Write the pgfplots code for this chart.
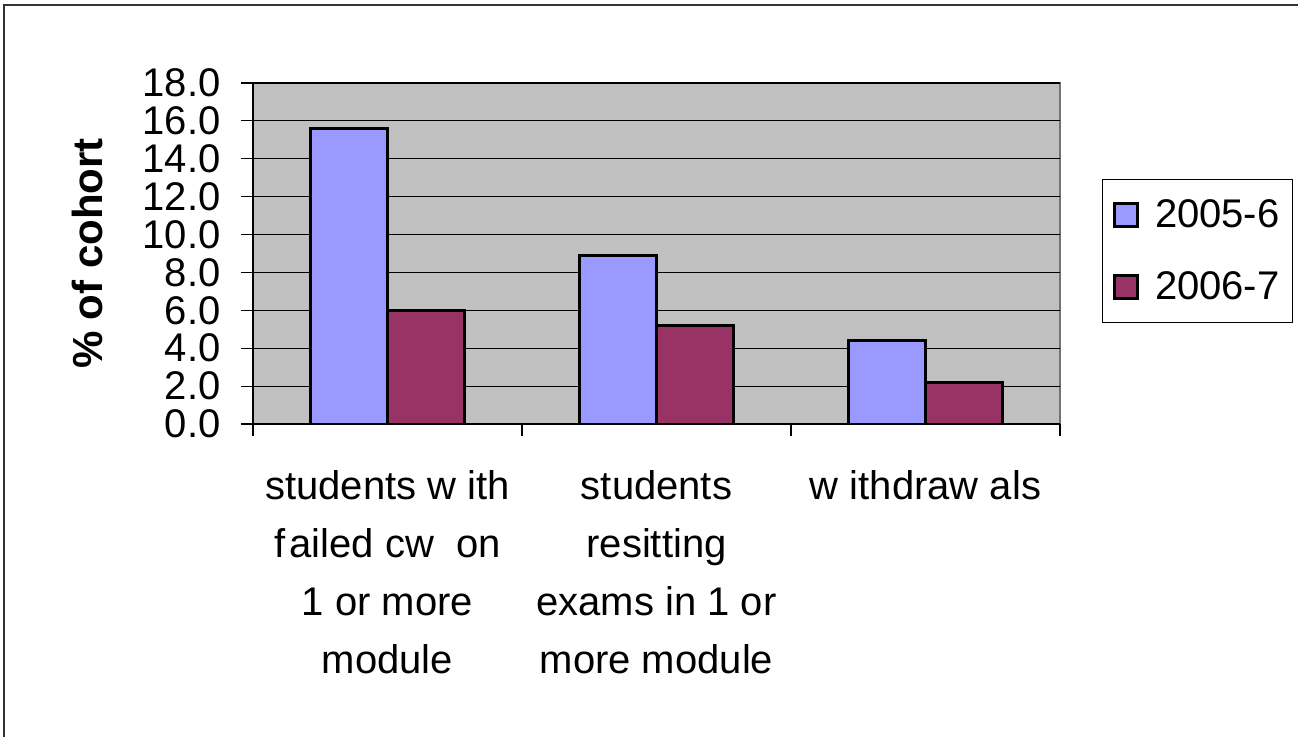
\documentclass[border=0pt]{standalone}
\usepackage{fontspec}
\setmainfont{Liberation Sans}
\usepackage{pgfplots}
\pgfplotsset{compat=1.18}
\definecolor{plotgray}{HTML}{C0C0C0}
\definecolor{barblue}{HTML}{9999FF}
\definecolor{barred}{HTML}{993366}
\begin{document}
\begin{tikzpicture}
\useasboundingbox (-126.5pt,-156.5pt) rectangle (522.5pt,212pt);
\draw[line width=0.8pt, black!80] (-124.5pt,-170pt) -- (-124.5pt,209.5pt) -- (540pt,209.5pt);
\begin{axis}[
  scale only axis, width=403.5pt, height=170.5pt,
  xmin=-0.5, xmax=2.5, ymin=0, ymax=18,
  axis background/.style={fill=plotgray, draw=black!55, line width=1pt},
  axis lines*=left,
  axis line style={black, line width=0.8pt, -},
  ytick={0,2,...,18},
  ymajorgrids, grid style={black, line width=0.6pt},
  tick align=outside, major tick length=6pt,
  tick style={black, line width=0.6pt},
  /pgf/number format/assume math mode=true,
  yticklabel style={/pgf/number format/.cd, fixed, fixed zerofill, precision=1, /tikz/.cd,
    font=\fontsize{20}{20}\selectfont, anchor=east, inner sep=0pt, xshift=-10pt},
  xtick={-0.5,0.5,1.5,2.5}, xticklabels={,,,},
  extra x ticks={0,1,2},
  extra x tick labels={{students w ith\\f\hspace{2pt}ailed cw\ \ on\\1 or more\\module},
                       {students\\resitting\\exams in 1 or\\more module},
                       {w ithdraw als}},
  extra x tick style={grid=none, major tick length=0pt,
    tick label style={font=\fontsize{20}{29}\selectfont, align=center, anchor=north, yshift=-19.5pt}},
  ylabel={\textbf{\% of cohort}},
  ylabel style={font=\fontsize{21}{21}\selectfont, at={(axis description cs:-0.2045,0.5)}, anchor=center},
  ybar, bar width=0.2857,
  legend style={at={(rel axis cs:1.052,0.7185)}, anchor=north west, draw=black, line width=0.5pt,
    font=\fontsize{20}{24}\selectfont, inner xsep=5.5pt, inner ysep=8pt, row sep=16.5pt,
    nodes={inner xsep=1pt}, legend cell align=left},
  legend image code/.code={\draw[#1, line width=1.2pt] (0pt,-5.75pt) rectangle (11.5pt,5.75pt); \path (18.5pt,0pt);},
]
\addplot[fill=barblue, draw=black, line width=1.35pt, bar shift=-0.14285] coordinates {(0,15.6) (1,8.9) (2,4.4)};
\addplot[fill=barred, draw=black, line width=1.35pt, bar shift=0.14285] coordinates {(0,6.0) (1,5.2) (2,2.2)};
\legend{2005-6,2006-7}
\end{axis}
\end{tikzpicture}
\end{document}
